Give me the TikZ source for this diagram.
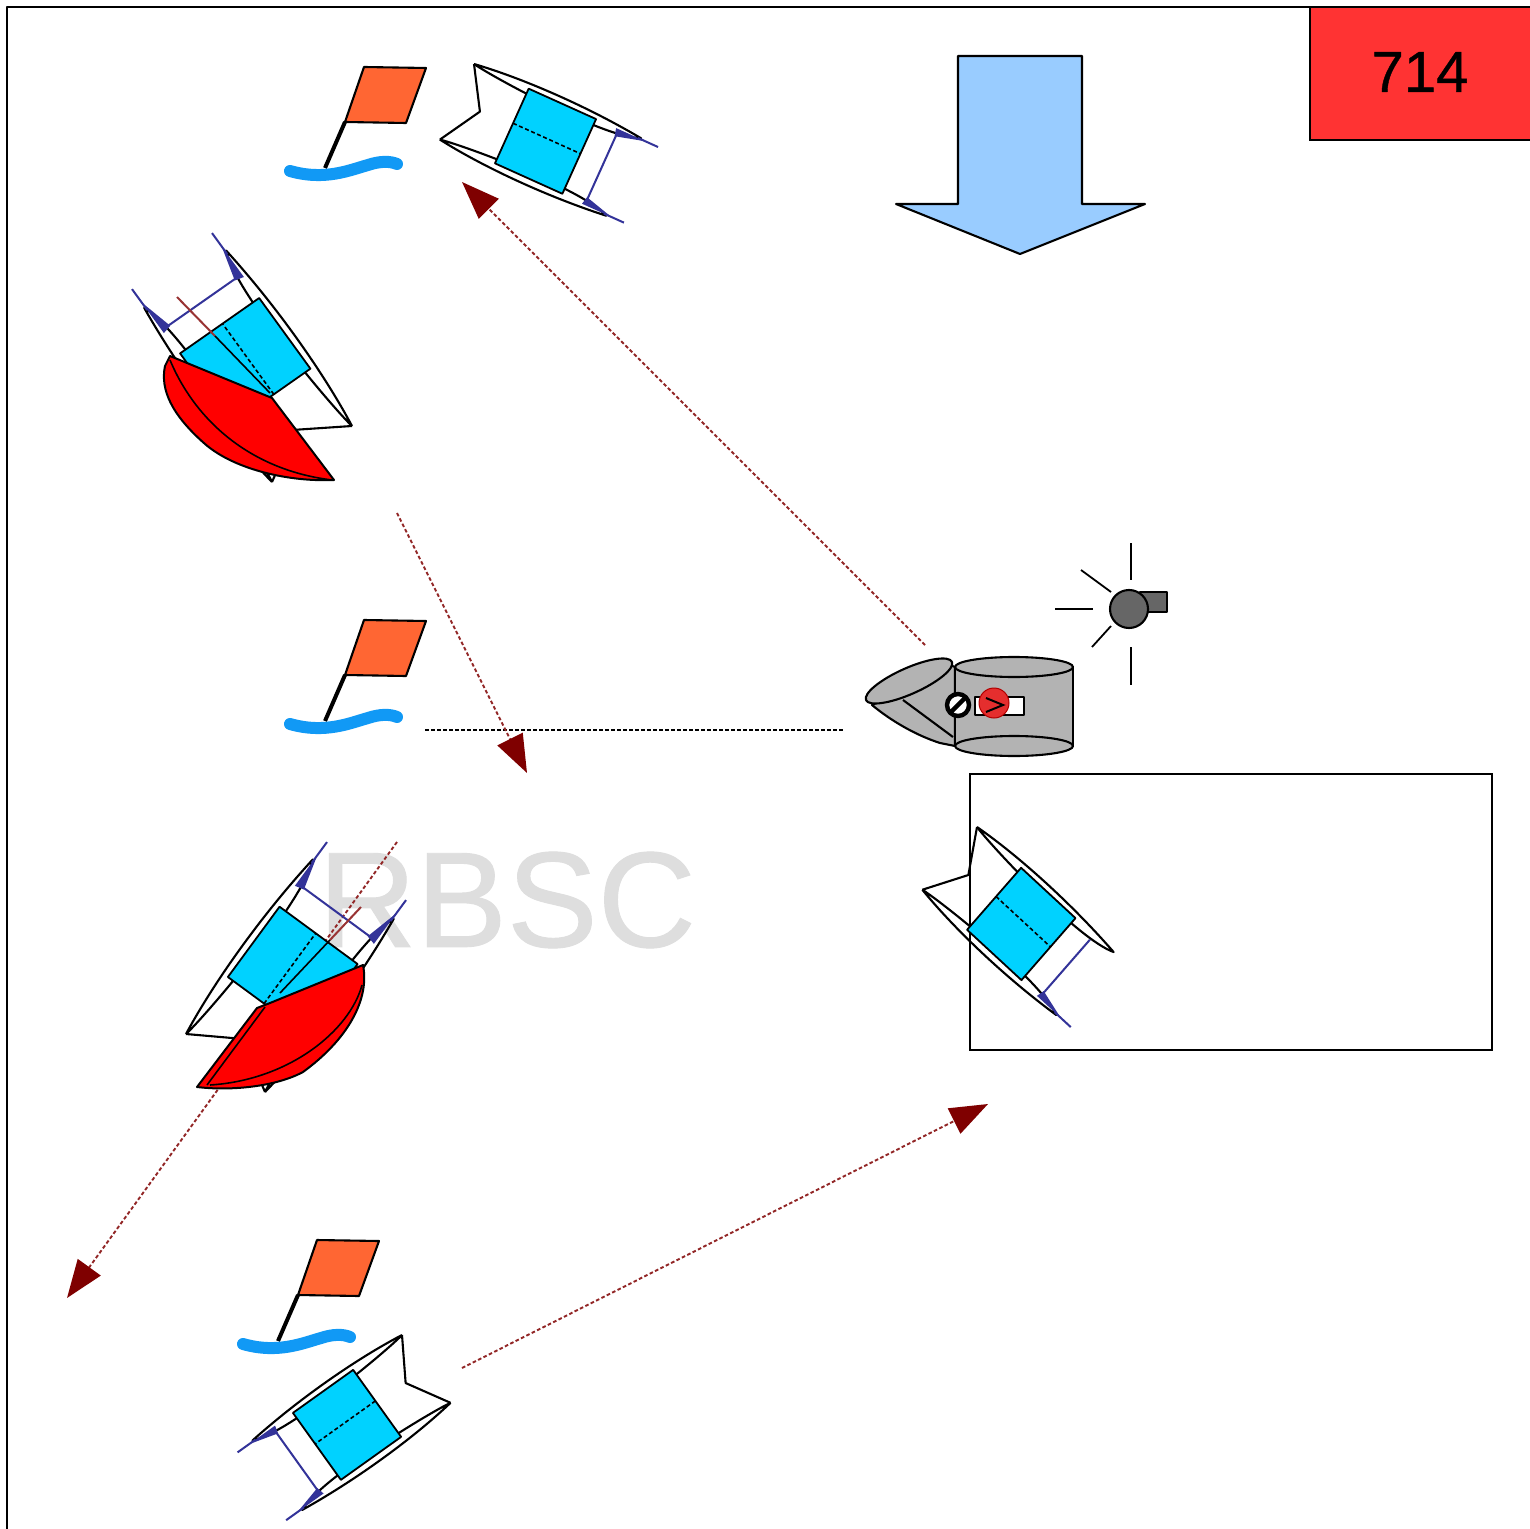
\documentclass[tikz,border=0pt]{standalone}
\usepackage{fontspec}
\setmainfont{Liberation Sans}
\newfontfamily\heavyish[FakeBold=0.7]{Liberation Sans}
\usetikzlibrary{arrows.meta}
\definecolor{cyanfill}{HTML}{00D2FF}
\definecolor{finblue}{HTML}{333399}
\definecolor{flagorange}{HTML}{FF6633}
\definecolor{waterblue}{HTML}{1199F5}
\definecolor{arrowred}{HTML}{7F0000}
\definecolor{boomred}{HTML}{993333}
\definecolor{coachgrey}{HTML}{B3B3B3}
\definecolor{whistlegrey}{HTML}{666666}
\definecolor{windblue}{HTML}{99CCFF}
\definecolor{tagred}{HTML}{FF3333}
\tikzset{
  line/.style={draw=black,line width=1.05pt,line join=round},
  thinline/.style={draw=black,line width=.9pt,line join=round},
  movearrow/.style={draw=arrowred!85!white,line width=.95pt,dash pattern=on 1.8pt off 1.2pt,
     -{Triangle[length=19pt,width=14pt,fill=arrowred,color=arrowred,sep=0pt]}},
  sight/.style={draw=black,line width=.8pt,dash pattern=on 1.8pt off 1.2pt},
  rudder/.style={draw=finblue,line width=1pt},
  ray/.style={draw=black,line width=.9pt},
  sailfill/.style={fill=red,draw=black,line width=1pt,line join=round},
}
% boat in local pixels: hull A on y=0, hull B on y=83, bow at x=0
\newcommand{\hullA}[1]{%
  \path[line] (0,0) .. controls (50,-7) and (120,-8) .. (#1,-1)
     .. controls (150,14) and (20,4) .. (0,0);}
\newcommand{\hullB}{%
  \path[line] (0,83) .. controls (50,90) and (120,91) .. (183,84)
     .. controls (150,69) and (20,79) .. (0,83);}
\newcommand{\finA}{%
  \fill[finblue] (156,0) -- (158,8) -- (188,0) -- cycle;
  \draw[rudder] (180,0) -- (202,0);}
\newcommand{\finB}{%
  \fill[finblue] (156,83) -- (158,75) -- (188,83) -- cycle;
  \draw[rudder] (180,83) -- (202,83);}
\newcommand{\boatcore}{%
  \path[line] (0,0) -- (25,41) -- (0,83);
  \draw[rudder] (159,6) -- (159,77);
  \path[fill=cyanfill,thinline] (60,0) -- (134,0) -- (134,82) -- (60,82) -- cycle;
  \path[draw=black,line width=.8pt,dash pattern=on 2pt off 1.3pt] (60,38) -- (134,38);}
\newcommand{\fullboat}{\hullA{183}\hullB\finA\finB\boatcore}
\newcommand{\flagshape}{%
  \draw[line width=2pt,black] (345,122) -- (325,168);
  \path[fill=flagorange,line] (364,67) -- (426,68) -- (406,123) -- (345,122) -- cycle;
  \draw[waterblue,line width=6pt,line cap=round]
    (290,171) .. controls (325,181) and (350,170) .. (368,165) .. controls (380,161) and (390,161) .. (397,164);}
\begin{document}
\begin{tikzpicture}[x=.5pt,y=-.5pt]
\useasboundingbox (0,0) rectangle (1529,1529);
\fill[white] (0,0) rectangle (1529,1529);
% frame
\coordinate (fa) at (7,1529); \coordinate (fb) at (7,7); \coordinate (fc) at (1529,7);
\draw[line] (fa) -- (fb) -- (fc);
% watermark
\node[text=black!13,font=\heavyish\fontsize{68}{68}\selectfont,inner sep=0pt] (mark) at (507,900) {RBSC};
% penalty box
\node[draw=black,line width=.9pt,minimum width=261pt,minimum height=138pt,inner sep=0pt,outer sep=0pt] (box) at (1231,912) {};
% score tag
\node[fill=tagred,draw=black,line width=.9pt,minimum width=120pt,minimum height=66.5pt,inner sep=0pt,outer sep=0pt,anchor=north west] (tag) at (1310,7) {};
\node[font=\heavyish\fontsize{29}{29}\selectfont,text=black,inner sep=0pt] (num) at (1420,72) {714};
% wind arrow
\path[fill=windblue,line] (958,56) -- (1082,56) -- (1082,204) -- (1145,204) -- (1020,254) -- (896,204) -- (958,204) -- cycle;
% connectors
\coordinate (a1s) at (925,645); \coordinate (a1e) at (462,182);
\coordinate (a2s) at (397,513); \coordinate (a2e) at (527,773);
\coordinate (a3s) at (397,842); \coordinate (a3e) at (67,1298);
\coordinate (a4s) at (462,1368); \coordinate (a4e) at (988,1104);
\coordinate (ls) at (425,730); \coordinate (le) at (843,730);
\draw[sight] (ls) -- (le);
\draw[movearrow] (a1s) -- (a1e);
\draw[movearrow] (a2s) -- (a2e);
\draw[movearrow] (a3s) -- (a3e);
\draw[movearrow] (a4s) -- (a4e);
% flags
\flagshape
\begin{scope}[yshift=-276.5pt]\flagshape\end{scope}
\begin{scope}[xshift=-23.5pt,yshift=-586.5pt]\flagshape\end{scope}
% boats
\begin{scope}[cm={.911,-.411,.411,.911,(474,64)}]\fullboat\end{scope}
\begin{scope}[cm={-.814,-.581,-.585,.817,(402,1335)}]\fullboat\end{scope}
\begin{scope}[cm={.735,-.68,.659,.756,(977,827)}]\hullA{185}\hullB\finB\boatcore\end{scope}
\begin{scope}[cm={-.693,.955,.964,.675,(352,426)}]\fullboat\end{scope}
\begin{scope}[cm={.698,.95,-.952,.699,(186,1034)}]\fullboat\end{scope}
% booms
\draw[boomred,line width=1pt] (177,297) -- (215,336);
\draw[black,line width=.8pt] (215,336) -- (270,393);
\draw[boomred,line width=1pt] (361,907) -- (330,940);
\draw[black,line width=.8pt] (330,940) -- (280,993);
% sail upper
\path[sailfill] (170,356) -- (272,398) -- (334,480) .. controls (290,482) and (235,470) .. (205,444)
   .. controls (172,415) and (160,390) .. (165,366) -- cycle;
\draw[black,line width=.8pt] (170,360) .. controls (195,420) and (250,470) .. (332,480);
% sail lower
\path[sailfill] (270,1003) -- (363,965) .. controls (370,1000) and (347,1040) .. (303,1072)
   .. controls (275,1087) and (230,1091) .. (197,1087) -- (257,1008) -- cycle;
\draw[black,line width=.8pt] (362,985) .. controls (350,1030) and (290,1080) .. (210,1085);
\draw[black,line width=.8pt] (207,1085) -- (265,1007);
% coach boat
\path[fill=coachgrey,line] (955,667) -- (955,746) -- (940,743) .. controls (915,735) and (890,720) .. (872,705) -- (950,665) -- cycle;
\path[fill=coachgrey,line] (955,667) -- (1073,667) -- (1073,746) -- (955,746) -- cycle;
\path[fill=coachgrey,line] (1014,667) ellipse [x radius=59,y radius=10];
\path[fill=coachgrey,line] (1014,746) ellipse [x radius=59,y radius=10];
\path[fill=coachgrey,line,rotate around={24:(909,681)}] (909,681) ellipse [x radius=47,y radius=13];
\draw[line] (903,700) -- (953,737);
\path[fill=white,line] (975,697) rectangle (1024,715);
\path[fill=white,draw=black,line width=2.2pt] (958,705) circle [radius=11];
\draw[black,line width=2.2pt] (951,712) -- (965,698);
\path[fill=red!80!white!90!black,draw=red!70!black,line width=.5pt] (994,703) circle [radius=15];
\draw[black,line width=1pt] (986,698) -- (1003,705) -- (986,712);
% whistle
\path[fill=whistlegrey,line] (1140,592) rectangle (1167,612);
\path[fill=whistlegrey,line] (1129,609) circle [radius=19];
\coordinate (r1a) at (1131,543); \coordinate (r1b) at (1131,580);
\coordinate (r2a) at (1081,570); \coordinate (r2b) at (1111,592);
\coordinate (r3a) at (1055,609); \coordinate (r3b) at (1093,609);
\coordinate (r4a) at (1111,626); \coordinate (r4b) at (1092,647);
\coordinate (r5a) at (1131,647); \coordinate (r5b) at (1131,685);
\draw[ray] (r1a) -- (r1b); \draw[ray] (r2a) -- (r2b); \draw[ray] (r3a) -- (r3b);
\draw[ray] (r4a) -- (r4b); \draw[ray] (r5a) -- (r5b);
\end{tikzpicture}
\end{document}
